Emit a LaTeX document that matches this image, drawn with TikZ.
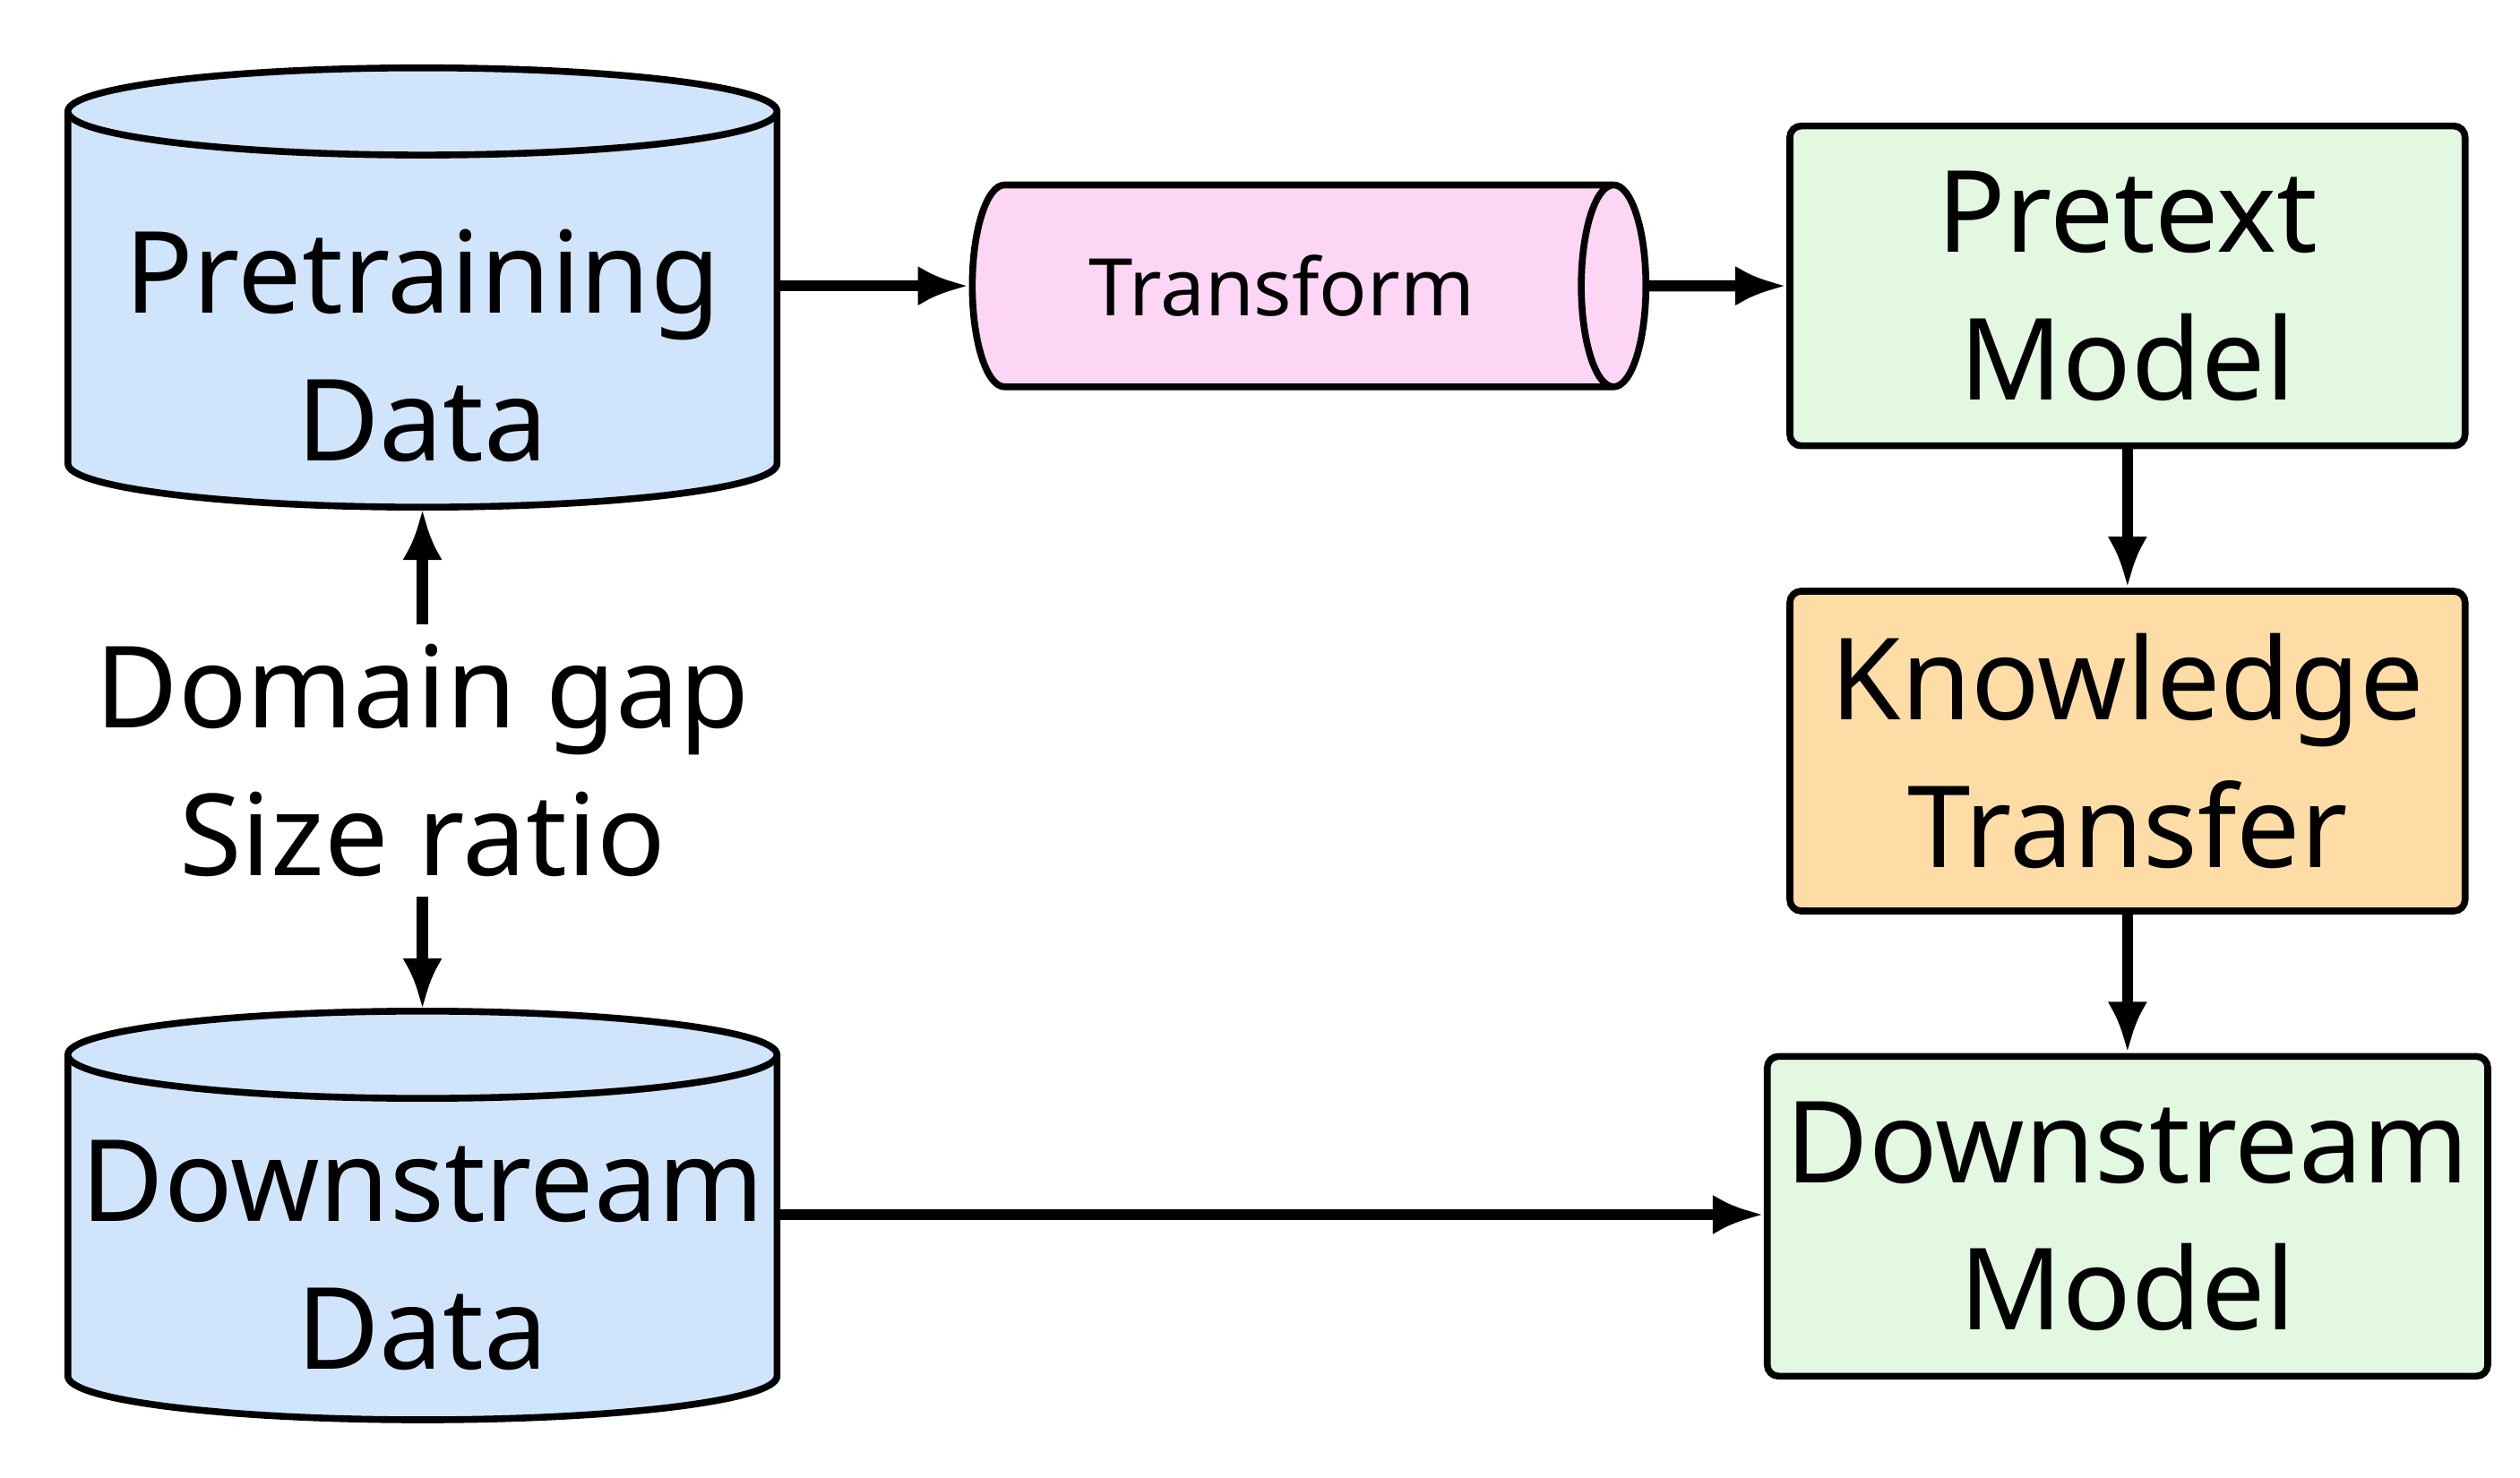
\documentclass[tikz,border=0pt]{standalone}
\usepackage{fontspec}
\setmainfont{Noto Sans}
\usetikzlibrary{shapes.geometric,arrows.meta,positioning}
\definecolor{dblue}{HTML}{D0E4FC}
\definecolor{tpink}{HTML}{FDD5F5}
\definecolor{mgreen}{HTML}{E2F8E0}
\definecolor{korange}{HTML}{FDDCA5}
\begin{document}
\begin{tikzpicture}
    \tikzset{
        box/.style = {rectangle, draw=black, line width=1.2pt, rounded corners=2pt, minimum width=4.18cm, minimum height=1.98cm, align=center, font=\fontsize{20}{26}\selectfont},
        line/.style = {draw=black, line width=2pt, -{Latex[length=9pt,width=7pt]}},
        cyl/.style = {draw=black, line width=1.2pt, fill=dblue},
        lbl/.style = {align=center, font=\fontsize{20}{26}\selectfont},
    }
    \useasboundingbox (0,0) rectangle (15.6,9.15);

    % data cylinders
    \path[cyl] (0.42,8.46) -- (0.42,6.28) arc (180:360:2.195 and 0.27) -- (4.81,8.46);
    \draw[cyl] (2.615,8.46) ellipse (2.195 and 0.27);
    \path[cyl] (0.42,2.62) -- (0.42,0.63) arc (180:360:2.195 and 0.27) -- (4.81,2.62);
    \draw[cyl] (2.615,2.62) ellipse (2.195 and 0.27);

    \node[lbl](pre) at (2.615,7.01){Pretraining\\Data};
    \node[lbl](down) at (2.615,1.38){Downstream\\Data};
    \node[lbl](gap) at (2.615,4.44){Domain gap\\Size ratio};

    \coordinate (preR) at (4.83,7.38);
    \coordinate (preB) at (2.615,6.0);
    \coordinate (downR) at (4.83,1.63);
    \coordinate (downT) at (2.615,2.9);

    \node[cylinder, draw=black, fill=tpink, line width=1.2pt, minimum width=1.25cm, minimum height=4.17cm, aspect=0.65, font=\fontsize{14}{17}\selectfont](trans) at (7.935,7.38){Transform};

    \node[box, fill=mgreen](pretext) at (13.17,7.38){Pretext\\Model};
    \node[box, fill=korange](kt) at (13.17,4.5){Knowledge\\Transfer};
    \node[box, fill=mgreen](dmodel) at (13.17,1.62){Downstream\\Model};

    \path [line] (preR) -- (trans);
    \path [line] (trans) -- (pretext);
    \path [line] (pretext) -- (kt);
    \path [line] (kt) -- (dmodel);
    \path [line] (downR) -- (dmodel.west |- downR);
    \path [line] (gap.north) -- (preB);
    \path [line] (gap.south) -- (downT);
\end{tikzpicture}
\end{document}
